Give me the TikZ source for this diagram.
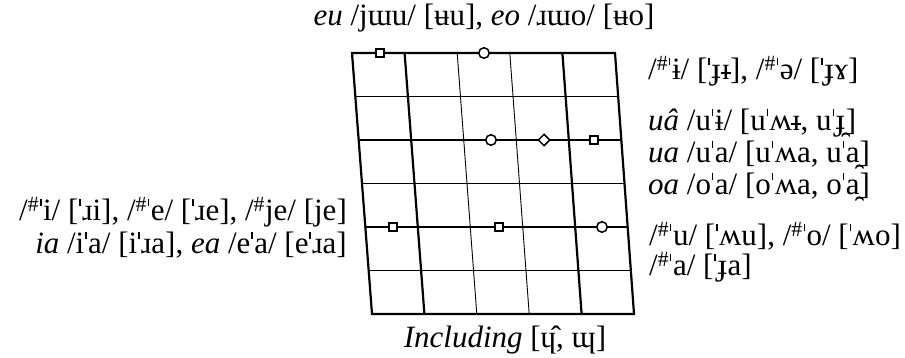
\documentclass[tikz,border=0pt]{standalone}
\usepackage{fontspec}
\setmainfont{Liberation Serif}
\usetikzlibrary{shapes.geometric,calc}
\newcommand{\st}{\kern0.03em\rule[0.48em]{0.045em}{0.22em}\kern0.05em}
\newcommand{\hs}{\textsuperscript{\#}\st}
\newcommand{\Ibar}{\ooalign{ɪ\cr\hidewidth\rule[0.2em]{0.32em}{0.045em}\hidewidth\cr}}
\begin{document}
\begin{tikzpicture}[x=1pt,y=-1pt,
  thinln/.style={line width=0.9pt},
  thickln/.style={line width=2.2pt},
  mk/.style={draw,fill=white,line width=1.5pt,inner sep=0pt},
  sq/.style={mk,rectangle,minimum size=8pt},
  circ/.style={mk,circle,minimum size=10.5pt},
  dia/.style={mk,diamond,minimum size=12pt},
  lbl/.style={inner sep=0pt,font=\fontsize{31}{33}\selectfont}]
\useasboundingbox (0,0) rectangle (905,358);
\coordinate (TL) at (352,53);
\coordinate (TR) at (615,53);
\coordinate (BL) at (372,314);
\coordinate (BR) at (634,314);
% thin lines
\foreach \j in {1,3,5}{
  \draw[thinln] ($(TL)!\j/6!(BL)$) -- ($(TR)!\j/6!(BR)$);}
\foreach \i in {2,3}{
  \draw[thinln] ($(TL)!\i/5!(TR)$) -- ($(BL)!\i/5!(BR)$);}
% thick lines
\foreach \j in {2,4}{
  \draw[thickln] ($(TL)!\j/6!(BL)$) -- ($(TR)!\j/6!(BR)$);}
\foreach \i in {1,4}{
  \draw[thickln] ($(TL)!\i/5!(TR)$) -- ($(BL)!\i/5!(BR)$);}
\draw[thickln,line join=miter] (TL) -- (TR) -- (BR) -- (BL) -- cycle;
% markers
\node[sq] (a1) at (380,53) {};
\node[circ] (a2) at (484,53) {};
\node[circ] (b1) at (491,140) {};
\node[dia] (b2) at (544,140) {};
\node[sq] (b3) at (594,140) {};
\node[sq] (c1) at (393,227) {};
\node[sq] (c2) at (499,227) {};
\node[circ] (c3) at (602,227) {};
% labels
\node[lbl,anchor=base] (top) at (484,26) {\textit{eu} /jɯu/ [ʉu], \textit{eo} /ɹɯo/ [ʉo]};
\node[lbl,anchor=base west] (r1) at (648,80) {/\hs ɨ/ [\st ɟ\Ibar], /\hs ə/ [\st ɟɤ]};
\node[lbl,anchor=base west] (r2) at (648,131) {\textit{uâ} /u\st ɨ/ [u\st ʍ\Ibar, u\st ɟ̯]};
\node[lbl,anchor=base west] (r3) at (648,163) {\textit{ua} /u\st a/ [u\st ʍa, u\st a̯]};
\node[lbl,anchor=base west] (r4) at (648,195) {\textit{oa} /o\st a/ [o\st ʍa, o\st a̯]};
\node[lbl,anchor=base west] (r5) at (649,246) {/\hs u/ [\st ʍu], /\hs o/ [\st ʍo]};
\node[lbl,anchor=base west] (r6) at (649,276) {/\hs a/ [\st ɟa]};
\node[lbl,anchor=base east] (l1) at (347,221) {/\hs i/ [\st ɹi], /\hs e/ [\st ɹe], /\textsuperscript{\#}je/ [je]};
\node[lbl,anchor=base east] (l2) at (347,254) {\textit{ia} /i\st a/ [i\st ɹa], \textit{ea} /e\st a/ [e\st ɹa]};
\node[lbl,anchor=base] (bot) at (505,347) {\textit{Including} [ɥ̂, ɰ]};
\end{tikzpicture}
\end{document}
